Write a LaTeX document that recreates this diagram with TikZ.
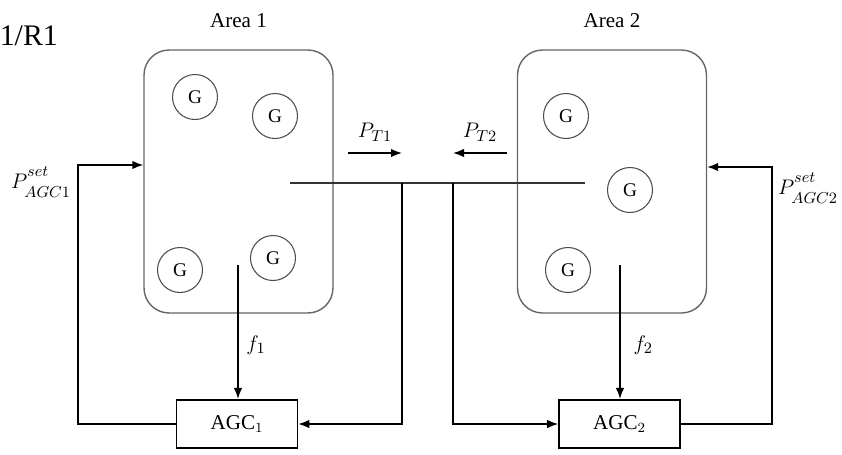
\documentclass[tikz,border=0pt]{standalone}
\usepackage{fontspec}
\setmainfont{Liberation Serif}
\usetikzlibrary{arrows.meta,positioning}

\newcommand{\psetlbl}[1]{$P^{\raisebox{3pt}{$\scriptstyle set$}}_{\raisebox{-2pt}{$\scriptstyle AGC#1$}}$}

\begin{document}
\begin{tikzpicture}[x=0.02cm,y=-0.02cm,>={Latex[length=2.2mm,width=1.7mm]},
                    line width=0.9pt,font=\fontsize{12}{14}\selectfont]
	  \tikzstyle{area}=[draw=black!60,line width=0.8pt,rounded corners=0.5cm,
	                    minimum width=3.78cm,minimum height=5.26cm]
	  \tikzstyle{gen}=[draw=black!70,circle,line width=0.6pt,minimum size=0.9cm,
	                   inner sep=0pt,font=\fontsize{11}{13}\selectfont]
	  \tikzstyle{agc}=[draw,minimum width=2.42cm,minimum height=0.97cm]
	  \tikzstyle{lbl}=[font=\fontsize{13}{15}\selectfont]

	  \useasboundingbox (0,0) rectangle (842,454);

	  \node[anchor=base west,inner sep=0pt,font=\fontsize{17}{19}\selectfont] (R) at (-1,45) {1/R1};

	  \node[area]          (A1) at (238.5,181.5) {};
	  \node[area]          (A2) at (612,181.5)   {};
	  \node                (T1) [above=0.3cm of A1.north] {Area 1};
	  \node                (T2) [above=0.3cm of A2.north] {Area 2};

	  \node[gen]           (G11) at (195,97)  {G};
	  \node[gen]           (G12) at (275,116) {G};
	  \node[gen]           (G13) at (180,270) {G};
	  \node[gen]           (G14) at (273,258) {G};
	  \node[gen]           (G21) at (566,116) {G};
	  \node[gen]           (G22) at (630,190) {G};
	  \node[gen]           (G23) at (568,270) {G};

	  \node[agc]           (C1) at (237,424)   {AGC$_1$};
	  \node[agc]           (C2) at (619.5,424) {AGC$_2$};

	  % tie line and its taps
	  \coordinate (tl) at (290,183);
	  \coordinate (tr) at (585,183);
	  \coordinate (j1) at (402,183);
	  \coordinate (j2) at (453,183);
	  \draw[line width=0.7pt,black!80] (tl) -- (tr);
	  \draw[->] (j1) |- (C1.east);
	  \draw[->] (j2) |- (C2.west);

	  % tie power flows
	  \coordinate (p1a) at (348,153);
	  \coordinate (p1b) at (402,153);
	  \coordinate (p2a) at (507,153);
	  \coordinate (p2b) at (453,153);
	  \draw[->] (p1a) -- (p1b) node[lbl,midway,above=3pt] {$P_{T1}$};
	  \draw[->] (p2a) -- (p2b) node[lbl,midway,above=3pt] {$P_{T2}$};

	  % frequency signals
	  \coordinate (f1) at (238,265);
	  \coordinate (f2) at (620,265);
	  \draw[->] (f1) -- (f1 |- C1.north) node[lbl,pos=0.6,right=1pt] {$f_1$};
	  \draw[->] (f2) -- (f2 |- C2.north) node[lbl,pos=0.6,right=4pt] {$f_2$};

	  % set points back to the areas
	  \coordinate (b1) at (78,165);
	  \coordinate (b2) at (772,167);
	  \draw[->] (C1.west) -| (b1) -- (b1 -| A1.west);
	  \draw[->] (C2.east) -| (b2) -- (b2 -| A2.east);
	  \node[lbl] (S1) at (41,182)  {\psetlbl{1}};
	  \node[lbl] (S2) at (808,188) {\psetlbl{2}};
\end{tikzpicture}
\end{document}
